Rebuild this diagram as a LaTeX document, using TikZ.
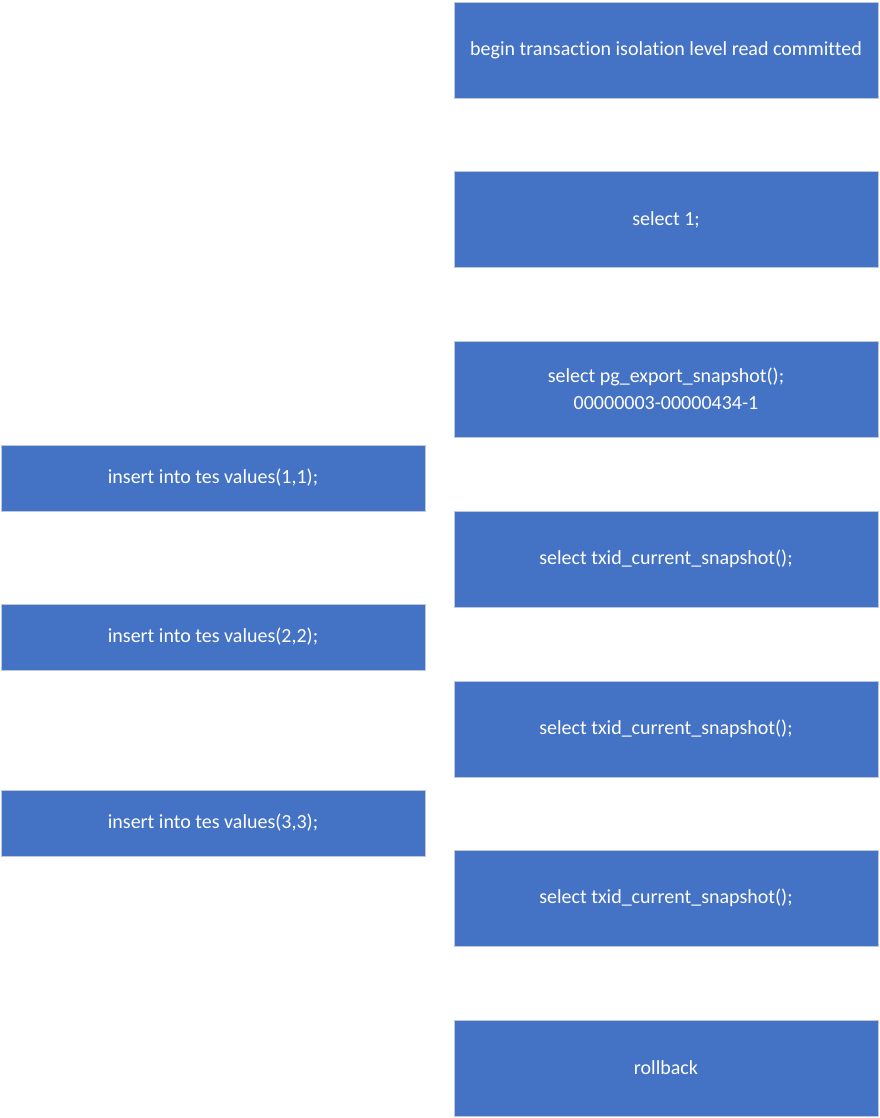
\documentclass[tikz,border=0pt]{standalone}
\usepackage{fontspec}
\setmainfont{Carlito}[Ligatures=NoCommon]
\definecolor{boxblue}{RGB}{68,114,196}
\definecolor{boxedge}{RGB}{190,200,220}
\tikzset{every picture/.style={line width=0.75pt}}
\tikzset{
  stepbox/.style={draw=boxedge, fill=boxblue, text=white, align=center,
    minimum width=318pt, minimum height=72pt, inner sep=0pt, font=\fontsize{15pt}{20pt}\selectfont},
  insbox/.style={stepbox, minimum height=49.5pt}
}
\begin{document}
\begin{tikzpicture}[x=0.75pt,y=0.75pt,yscale=-1,xscale=1]
\useasboundingbox (0,0) rectangle (879,1118);

% session one (right column)
\node [stepbox] (begin) at (666,50) {begin transaction isolation level read committed};
\node [stepbox] (sel) at (666,219.5) {select 1;};
\node [stepbox] (export) at (666,389) {select pg\_export\_snapshot();\\00000003-00000434-1};
\node [stepbox] (snapa) at (666,559) {select txid\_current\_snapshot();};
\node [stepbox] (snapb) at (666,729) {select txid\_current\_snapshot();};
\node [stepbox] (snapc) at (666,898) {select txid\_current\_snapshot();};
\node [stepbox] (rollback) at (666,1068) {rollback};

% session two (left column)
\node [insbox] (insa) at (213,478) {insert into tes values(1,1);};
\node [insbox] (insb) at (213,637) {insert into tes values(2,2);};
\node [insbox] (insc) at (213,823) {insert into tes values(3,3);};

\end{tikzpicture}
\end{document}
